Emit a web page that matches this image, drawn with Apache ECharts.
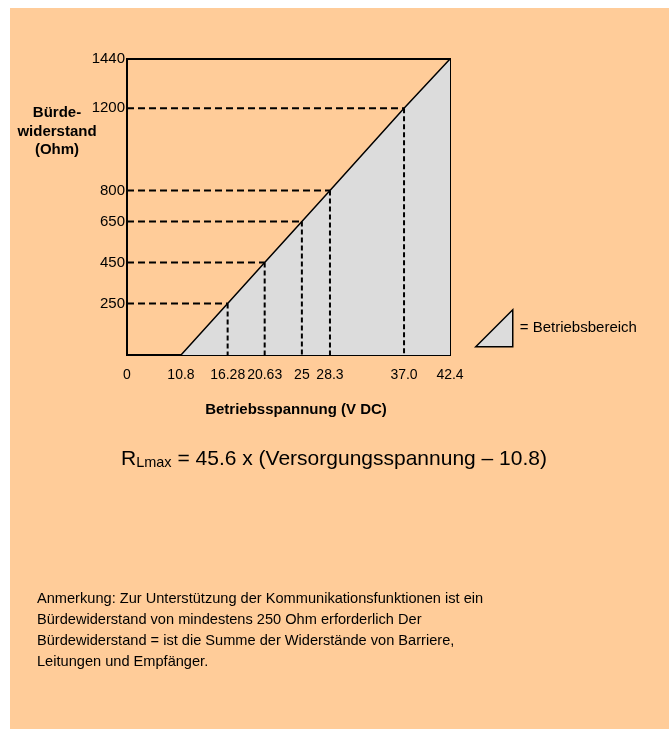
<!DOCTYPE html>
<html><head><meta charset="utf-8">
<script src="https://cdn.jsdelivr.net/npm/echarts@6/dist/echarts.min.js"></script>
<style>html,body{margin:0;padding:0;background:#fff}#c{width:669px;height:729px}</style>
</head><body><div id="c"></div>
<script>
// Operating range: R_Lmax = 45.6 x (U - 10.8)
const voltages = [10.8, 16.28, 20.63, 25, 28.3, 37.0, 42.4];
const resistances = [0, 250, 450, 650, 800, 1200, 1440];
const xTickValues = [0, 10.8, 16.28, 20.63, 25, 28.3, 37.0, 42.4];
const xTickText = ['0', '10.8', '16.28', '20.63', '25', '28.3', '37.0', '42.4'];
const yTickValues = [250, 450, 650, 800, 1200, 1440];
const guideVoltages = [16.28, 20.63, 25, 28.3, 37.0];
const guideResistances = [250, 450, 650, 800, 1200];
const seriesName = '= Betriebsbereich';

const FONT = '"Liberation Sans", Arial, sans-serif';
const chart = echarts.init(document.getElementById('c'), null, {renderer: 'canvas'});

const series = [{
  name: seriesName,
  type: 'line',
  data: voltages.map((v, i) => [v, resistances[i]]),
  symbol: 'none',
  lineStyle: {color: '#000', width: 1.5},
  itemStyle: {color: '#dcdcdc', borderColor: '#000', borderWidth: 1.5},
  areaStyle: {color: '#dcdcdc', opacity: 1, origin: 'start'},
  z: 2,
  silent: true
}];
guideVoltages.forEach((v, i) => {
  const r = guideResistances[i];
  series.push({
    type: 'line', symbol: 'none', silent: true, z: 3,
    data: [[0, r], [v, r]],
    lineStyle: {color: '#000', width: 2, type: [7, 4]}
  });
  series.push({
    type: 'line', symbol: 'none', silent: true, z: 3,
    data: [[v, r], [v, 0]],
    lineStyle: {color: '#000', width: 2, type: [5, 3]}
  });
});

chart.setOption({
  backgroundColor: '#fff',
  animation: false,
  graphic: [
    {type: 'rect', z: -10, shape: {x: 10, y: 8, width: 659, height: 721}, style: {fill: '#FFCC99'}},
    {type: 'text', x: 57, y: 104, style: {text: 'Bürde-\nwiderstand\n(Ohm)', font: 'bold 15px ' + FONT, align: 'center', lineHeight: 18.5, fill: '#000'}},
    {type: 'text', x: 296, y: 410, style: {text: 'Betriebsspannung (V DC)', font: 'bold 15px ' + FONT, align: 'center', verticalAlign: 'middle', fill: '#000'}},
    {type: 'text', x: 121, y: 459, style: {
      text: '{r|R}{s|Lmax}{n| = 45.6 x (Versorgungsspannung – 10.8)}',
      verticalAlign: 'middle', fill: '#000',
      rich: {
        r: {fontSize: 21, fontFamily: FONT, verticalAlign: 'bottom', lineHeight: 22},
        s: {fontSize: 14.5, fontFamily: FONT, verticalAlign: 'bottom', lineHeight: 18.5},
        n: {fontSize: 21, fontFamily: FONT, verticalAlign: 'bottom', lineHeight: 22}
      }
    }},
    {type: 'text', x: 37, y: 588, style: {
      text: 'Anmerkung: Zur Unterstützung der Kommunikationsfunktionen ist ein\nBürdewiderstand von mindestens 250 Ohm erforderlich Der\nBürdewiderstand = ist die Summe der Widerstände von Barriere,\nLeitungen und Empfänger.',
      font: '14.6px ' + FONT, lineHeight: 21, fill: '#000'}}
  ],
  legend: {
    left: 475, top: 309, padding: 0,
    data: [{name: seriesName, icon: 'path://M0,10 L10,0 L10,10 Z'}],
    itemWidth: 37, itemHeight: 39, itemGap: 0,
    itemStyle: {color: '#dcdcdc', borderColor: '#000', borderWidth: 1.5},
    textStyle: {fontSize: 15, fontFamily: FONT, color: '#000', padding: [10, 0, 0, 2]},
    selectedMode: false
  },
  grid: {left: 127, top: 59, width: 323, height: 296, show: true, borderColor: '#000', borderWidth: 2, backgroundColor: 'transparent'},
  xAxis: {
    type: 'value', min: 0, max: 42.4,
    breaks: [{start: 1, end: 10, gap: 4.543}],
    breakArea: {show: false},
    axisLine: {show: true, lineStyle: {color: '#000', width: 2}},
    axisTick: {show: false},
    splitLine: {show: false},
    axisLabel: {
      customValues: xTickValues, margin: 13, color: '#000', fontSize: 14, fontFamily: FONT,
      formatter: v => { const i = xTickValues.indexOf(v); return i >= 0 ? xTickText[i] : ''; }
    }
  },
  yAxis: {
    type: 'value', min: 0, max: 1440,
    axisLine: {show: true, lineStyle: {color: '#000', width: 2}},
    axisTick: {show: false},
    splitLine: {show: false},
    axisLabel: {customValues: yTickValues, margin: 2, color: '#000', fontSize: 15, fontFamily: FONT, formatter: v => String(v)}
  },
  series: series
});
</script></body></html>
